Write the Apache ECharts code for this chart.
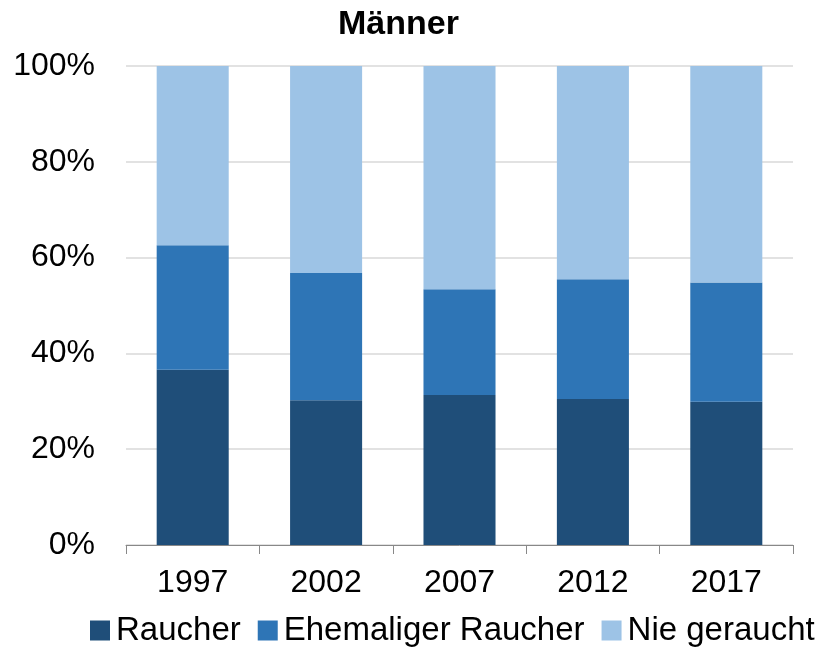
<!DOCTYPE html>
<html>
<head>
<meta charset="utf-8">
<script src="https://cdn.jsdelivr.net/npm/echarts@6/dist/echarts.min.js"></script>
<style>
html,body{margin:0;padding:0;background:#fff;}
#chart{width:823px;height:647px;}
</style>
</head>
<body>
<div id="chart"></div>
<script>
const titleText = 'Männer';
const categories = ['1997', '2002', '2007', '2012', '2017'];
const seriesNames = ['Raucher', 'Ehemaliger Raucher', 'Nie geraucht'];
const raucher = [36.6, 30.2, 31.3, 30.5, 29.9];
const ehemalige = [26.0, 26.6, 22.1, 25.0, 24.9];
const nieGeraucht = [37.4, 43.2, 46.6, 44.5, 45.2];
const yTicks = [0, 20, 40, 60, 80, 100];
const colors = ['#1F4E79', '#2E75B6', '#9DC3E6'];

const FONT = '"Liberation Sans", Arial, sans-serif';
const chart = echarts.init(document.getElementById('chart'));
const dataSets = [raucher, ehemalige, nieGeraucht];

chart.setOption({
  animation: false,
  title: {
    text: titleText,
    left: 338,
    top: 8,
    padding: 0,
    textStyle: { fontFamily: FONT, fontSize: 34, fontWeight: 'bold', color: '#000' }
  },
  legend: {
    data: seriesNames,
    left: 90,
    top: 614,
    padding: 0,
    itemWidth: 20,
    itemHeight: 20,
    itemGap: 17,
    icon: 'rect',
    textStyle: { fontFamily: FONT, fontSize: 33, color: '#000', padding: [0, 0, 0, 1] }
  },
  grid: { left: 126, right: 30, top: 66, bottom: 102 },
  xAxis: {
    type: 'category',
    data: categories,
    axisLine: { show: true, lineStyle: { color: '#888', width: 1 } },
    axisTick: { show: true, length: 9, lineStyle: { color: '#888' } },
    axisLabel: { margin: 22, fontFamily: FONT, fontSize: 32, color: '#000' }
  },
  yAxis: {
    type: 'value',
    min: yTicks[0],
    max: yTicks[yTicks.length - 1],
    interval: yTicks[1] - yTicks[0],
    axisLine: { show: false },
    axisTick: { show: false },
    splitLine: { show: true, lineStyle: { color: '#d9d9d9', width: 1.5 } },
    axisLabel: { margin: 31, fontFamily: FONT, fontSize: 32, color: '#000', formatter: '{value}%' }
  },
  series: seriesNames.map((name, i) => ({
    name: name,
    type: 'bar',
    stack: 'total',
    barWidth: '54%',
    data: dataSets[i],
    itemStyle: { color: colors[i] }
  }))
});
</script>
</body>
</html>
